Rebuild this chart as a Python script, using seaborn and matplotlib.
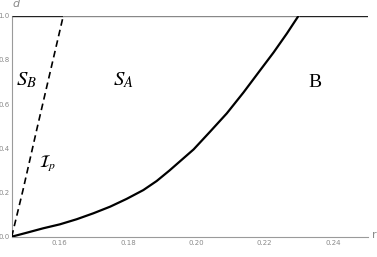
import matplotlib
matplotlib.use("Agg")
import matplotlib.pyplot as plt
import seaborn as sns
import pandas as pd
import numpy as np
from matplotlib.ticker import MultipleLocator

# ---- data ----
solid_r = [0.1460, 0.1504, 0.1552, 0.1601, 0.1650, 0.1699, 0.1748, 0.1796, 0.1845,
           0.1884, 0.1921, 0.1992, 0.2040, 0.2089, 0.2138, 0.2187, 0.2226, 0.2265, 0.2299]
solid_d = [0.000, 0.018, 0.038, 0.056, 0.079, 0.106, 0.136, 0.171, 0.211,
           0.252, 0.299, 0.395, 0.475, 0.558, 0.653, 0.754, 0.834, 0.920, 1.000]

dashed_r = [0.1460, 0.1493, 0.1533, 0.1611]
dashed_d = [0.000, 0.211, 0.483, 1.000]

top_d = 1.0
xlim = (0.1460, 0.2502)
ylim = (0.0, 1.0)
xticks = [0.16, 0.18, 0.20, 0.22, 0.24]
xticklabels = ["0.16", "0.18", "0.20", "0.22", "0.24"]
yticks = [0.0, 0.2, 0.4, 0.6, 0.8, 1.0]
yticklabels = ["0.0", "0.2", "0.4", "0.6", "0.8", "1.0"]

sns.set_theme(style="white")
plt.rcParams["mathtext.fontset"] = "stix"
plt.rcParams["font.family"] = ["DejaVu Sans"]

fig = plt.figure(figsize=(3.77, 2.57), dpi=100)
ax = fig.add_axes([11.7 / 377, 20.3 / 257, (368 - 11.7) / 377, (236.7 - 15.7) / 257])

df_solid = pd.DataFrame({"r": solid_r, "d": solid_d})
df_dash = pd.DataFrame({"r": dashed_r, "d": dashed_d})

# top boundary d = 1 (grey between the two curves, black elsewhere)
ax.hlines(top_d, xlim[0], dashed_r[-1], color="#222222", lw=1.0, zorder=2)
ax.hlines(top_d, dashed_r[-1], solid_r[-1], color="#888888", lw=1.0, zorder=2)
ax.hlines(top_d, solid_r[-1], xlim[1], color="#222222", lw=1.0, zorder=2)

sns.lineplot(data=df_solid, x="r", y="d", sort=False, color="black", lw=1.6, ax=ax,
             zorder=3, solid_joinstyle="round", solid_capstyle="round")
sns.lineplot(data=df_dash, x="r", y="d", sort=False, color="black", lw=1.2, ax=ax,
             zorder=3, dashes=False, linestyle=(0, (4, 2.5)))

ax.set_xlim(*xlim)
ax.set_ylim(*ylim)
ax.set_xlabel("")
ax.set_ylabel("")

ax.set_xticks(xticks)
ax.set_xticklabels(xticklabels)
ax.set_yticks(yticks)
ax.set_yticklabels(yticklabels)
ax.xaxis.set_minor_locator(MultipleLocator(0.005))
ax.yaxis.set_minor_locator(MultipleLocator(0.05))

grey = "#8a8a8a"
for s in ["top", "right"]:
    ax.spines[s].set_visible(False)
for s in ["left", "bottom"]:
    ax.spines[s].set_color("#9a9a9a")
    ax.spines[s].set_linewidth(0.8)
    ax.spines[s].set_zorder(1)

ax.tick_params(axis="both", which="major", direction="in", length=3.0, width=0.6,
               color="#9a9a9a", labelsize=5, labelcolor=grey, pad=2.5)
ax.tick_params(axis="both", which="minor", direction="in", length=1.8, width=0.5,
               color="#9a9a9a")
ax.tick_params(axis="y", which="major", pad=1.5)

# axis labels
fig.text(12 / 377, 1 - 4 / 257, "d", fontsize=8, style="italic", color=grey,
         ha="left", va="center")
fig.text(372 / 377, 1 - 235 / 257, "r", fontsize=8, color=grey, ha="left", va="center")

# region labels
ax.text(0.1472, 0.686, "$S_B$", fontsize=15, color="black", ha="left", va="baseline")
ax.text(0.1756, 0.686, "$S_A$", fontsize=15, color="black", ha="left", va="baseline")
ax.text(0.2327, 0.677, "B", fontsize=14, color="black", ha="left", va="baseline",
        family="Liberation Serif")
ax.text(0.1540, 0.315, r"$\mathcal{I}_p$", fontsize=12, color="black", ha="left", va="baseline")

fig.savefig("out.png", dpi=100)
